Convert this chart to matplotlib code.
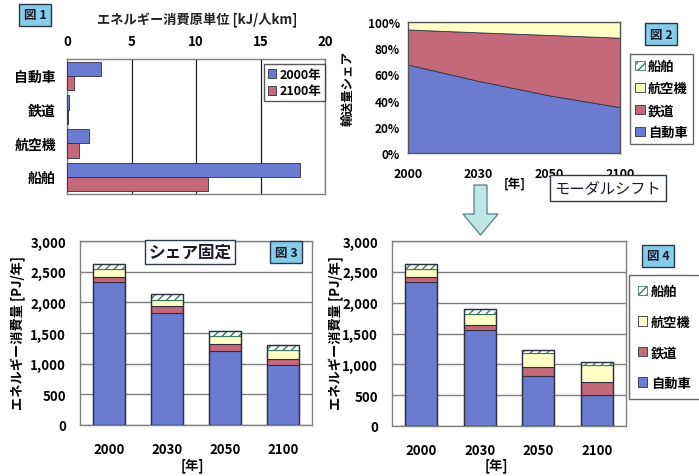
import matplotlib
matplotlib.use("Agg")
import matplotlib.pyplot as plt
from matplotlib.patches import Rectangle, Polygon
from matplotlib.ticker import FuncFormatter

plt.rcParams['font.family'] = ['Noto Sans CJK JP', 'DejaVu Sans']
plt.rcParams['hatch.linewidth'] = 1.0

# ---------------- data ----------------
fig1_modes = ['自動車', '鉄道', '航空機', '船舶']
fig1_2000 = [2.6, 0.15, 1.7, 18.1]
fig1_2100 = [0.55, 0.1, 0.9, 10.9]
fig1_ticks = [0, 5, 10, 15, 20]

years = ['2000', '2030', '2050', '2100']
modes = ['自動車', '鉄道', '航空機', '船舶']

share_car = [67.5, 55.0, 44.0, 35.0]
share_rail = [26.8, 37.1, 46.1, 53.0]
share_air = [5.6, 7.8, 9.8, 11.9]
share_ship = [0.1, 0.1, 0.1, 0.1]

fix_car = [2330, 1820, 1210, 980]
fix_rail = [85, 115, 105, 95]
fix_air = [125, 110, 130, 150]
fix_ship = [80, 85, 80, 85]

shift_car = [2330, 1550, 810, 510]
shift_rail = [85, 90, 150, 205]
shift_air = [125, 175, 220, 275]
shift_ship = [80, 80, 55, 40]

# ---------------- style ----------------
C_CAR = '#6a7bd0'
C_RAIL = '#c4687b'
C_AIR = '#ffffc6'
C_SHIP = '#ffffff'
HATCH_EC = '#3d7a62'
EDGE = '#303040'
BOX_BLUE = '#86cbe8'

W, H = 699, 477
fig = plt.figure(figsize=(W / 100, H / 100), dpi=100)
fig.patch.set_facecolor('white')


def ax_px(l, t, r, b):
    return fig.add_axes([l / W, 1 - b / H, (r - l) / W, (b - t) / H])


def fx(x):
    return x / W


def fy(y):
    return 1 - y / H


def label_box(x, y, text, fc=BOX_BLUE, size=9, weight='bold', pad=0.35, ha='center'):
    fig.text(fx(x), fy(y), text, ha=ha, va='center', fontsize=size, fontweight=weight,
             color='#1a1a2a',
             bbox=dict(boxstyle=f'square,pad={pad}', fc=fc, ec='#2a3a4a', lw=1.0))


def style_spines(ax, color='#808080'):
    for s in ax.spines.values():
        s.set_color(color)
        s.set_linewidth(1.0)


# ---------------- 図1 ----------------
ax1 = ax_px(67, 60, 325, 195)
ypos = list(range(len(fig1_modes)))
h = 0.42
ax1.barh([y - h / 2 for y in ypos], fig1_2000, height=h, color=C_CAR, edgecolor=EDGE, lw=0.6,
         label='2000年', zorder=3)
ax1.barh([y + h / 2 for y in ypos], fig1_2100, height=h, color=C_RAIL, edgecolor=EDGE, lw=0.6,
         label='2100年', zorder=3)
ax1.set_xlim(0, 20)
ax1.set_ylim(3.5, -0.5)
ax1.set_xticks(fig1_ticks)
ax1.set_yticks(ypos)
ax1.set_yticklabels(fig1_modes, fontsize=10, fontweight='bold')
ax1.xaxis.tick_top()
ax1.tick_params(axis='x', length=0, pad=8, labelsize=9.5)
ax1.tick_params(axis='y', length=0, pad=8)
for lab in ax1.get_xticklabels():
    lab.set_fontweight('bold')
ax1.grid(axis='x', color='#202020', lw=0.9, zorder=0)
style_spines(ax1)
ax1.legend(loc='upper right', bbox_to_anchor=(fx(325), fy(65)), bbox_transform=fig.transFigure,
           frameon=True, fancybox=False, edgecolor='#303030',
           handlelength=0.7, handleheight=0.7, handletextpad=0.25, borderpad=0.3,
           labelspacing=0.3, borderaxespad=0.0, prop={'weight': 'bold', 'size': 9})
fig.text(fx(197), fy(20), 'エネルギー消費原単位 [kJ/人km]', ha='center', va='center',
         fontsize=9.5, fontweight='bold', color='#222222')
label_box(35, 16, '図 1')

# ---------------- 図2 ----------------
ax2 = ax_px(408, 23, 620, 154)
xs = list(range(len(years)))
ax2.stackplot(xs, share_car, share_rail, share_air, share_ship,
              colors=[C_CAR, C_RAIL, C_AIR, C_SHIP], edgecolor='#333344', lw=0.6)
ax2.set_xlim(0, 3)
ax2.set_ylim(0, 100)
ax2.set_xticks(xs)
ax2.set_xticklabels(years, fontsize=9, fontweight='bold')
ax2.set_yticks([0, 20, 40, 60, 80, 100])
ax2.yaxis.set_major_formatter(FuncFormatter(lambda v, p: f'{int(v)}%'))
for lab in ax2.get_yticklabels():
    lab.set_fontweight('bold')
    lab.set_fontsize(8.5)
ax2.tick_params(axis='both', length=0)
ax2.tick_params(axis='x', pad=10)
ax2.tick_params(axis='y', pad=6)
style_spines(ax2, '#555555')
fig.text(fx(348), fy(88), '輸送量シェア', rotation=90, ha='center', va='center',
         fontsize=9, fontweight='bold')
fig.text(fx(515), fy(185), '[年]', ha='center', va='center', fontsize=9, fontweight='bold')
label_box(661, 35, '図 2')


def mode_handles():
    return [Rectangle((0, 0), 1, 1, fc=C_SHIP, ec=HATCH_EC, hatch='////', lw=0.6),
            Rectangle((0, 0), 1, 1, fc=C_AIR, ec=EDGE, lw=0.6),
            Rectangle((0, 0), 1, 1, fc=C_RAIL, ec=EDGE, lw=0.6),
            Rectangle((0, 0), 1, 1, fc=C_CAR, ec=EDGE, lw=0.6)]


fig.legend(mode_handles(), modes[::-1], loc='upper left', bbox_to_anchor=(fx(630), fy(55)),
           bbox_transform=fig.transFigure, frameon=True, fancybox=False, edgecolor='#404040',
           handlelength=0.7, handleheight=0.7, handletextpad=0.25, borderpad=0.4,
           labelspacing=0.6, borderaxespad=0.0, prop={'weight': 'bold', 'size': 9.5})

# arrow + モーダルシフト
arrow_px = [(474, 186), (487, 186), (487, 215), (498, 215), (480.5, 236), (463, 215), (474, 215)]
fig.patches.append(Polygon([(fx(x), fy(y)) for x, y in arrow_px], closed=True,
                           transform=fig.transFigure, fc='#bfe6e2', ec='#5b8d95', lw=1.0))
label_box(608, 189, 'モーダルシフト', fc='white', size=11, weight='normal', pad=0.3)


# ---------------- 図3 / 図4 ----------------
def stacked(ax, car, rail, air, ship):
    xs = list(range(len(years)))
    w = 0.55
    b1 = car
    b2 = [a + b for a, b in zip(b1, rail)]
    b3 = [a + b for a, b in zip(b2, air)]
    ax.bar(xs, car, w, color=C_CAR, edgecolor=EDGE, lw=0.8, zorder=3)
    ax.bar(xs, rail, w, bottom=b1, color=C_RAIL, edgecolor=EDGE, lw=0.8, zorder=3)
    ax.bar(xs, air, w, bottom=b2, color=C_AIR, edgecolor=EDGE, lw=0.8, zorder=3)
    ax.bar(xs, ship, w, bottom=b3, color=C_SHIP, edgecolor=HATCH_EC, hatch='////', lw=0.8, zorder=3)
    tops = [a + b for a, b in zip(b3, ship)]
    ax.bar(xs, tops, w, fill=False, edgecolor=EDGE, lw=1.0, zorder=4)
    ax.set_xlim(-0.5, 3.5)
    ax.set_ylim(0, 3000)
    ax.set_xticks(xs)
    ax.set_xticklabels(years, fontsize=9.5, fontweight='bold')
    ax.set_yticks(range(0, 3001, 500))
    ax.yaxis.set_major_formatter(FuncFormatter(lambda v, p: f'{int(v):,}'))
    for lab in ax.get_yticklabels():
        lab.set_fontweight('bold')
        lab.set_fontsize(9.5)
    ax.tick_params(axis='both', length=0)
    ax.tick_params(axis='x', pad=12)
    ax.tick_params(axis='y', pad=10)
    ax.grid(axis='y', color='#808080', lw=1.0, zorder=0)
    style_spines(ax)


ax3 = ax_px(80, 242, 312, 426)
stacked(ax3, fix_car, fix_rail, fix_air, fix_ship)
fig.text(fx(18), fy(333), 'エネルギー消費量 [PJ/年]', rotation=90, ha='center', va='center',
         fontsize=9.5, fontweight='bold')
fig.text(fx(192), fy(466), '[年]', ha='center', va='center', fontsize=9.5, fontweight='bold')
label_box(190, 253, 'シェア固定', fc='white', size=12, weight='bold', pad=0.2)
label_box(286, 253, '図 3')

ax4 = ax_px(392, 242, 626, 427)
stacked(ax4, shift_car, shift_rail, shift_air, shift_ship)
fig.text(fx(336), fy(333), 'エネルギー消費量 [PJ/年]', rotation=90, ha='center', va='center',
         fontsize=9.5, fontweight='bold')
fig.text(fx(496), fy(466), '[年]', ha='center', va='center', fontsize=9.5, fontweight='bold')
label_box(658, 257, '図 4')
fig.legend(mode_handles(), modes[::-1], loc='upper left', bbox_to_anchor=(fx(629), fy(276)),
           bbox_transform=fig.transFigure, frameon=True, fancybox=False, edgecolor='#404040',
           handlelength=0.7, handleheight=0.7, handletextpad=0.25, borderpad=0.7,
           labelspacing=1.25, borderaxespad=0.0, prop={'weight': 'bold', 'size': 9.5})

fig.savefig('out.png', dpi=100, facecolor='white')
